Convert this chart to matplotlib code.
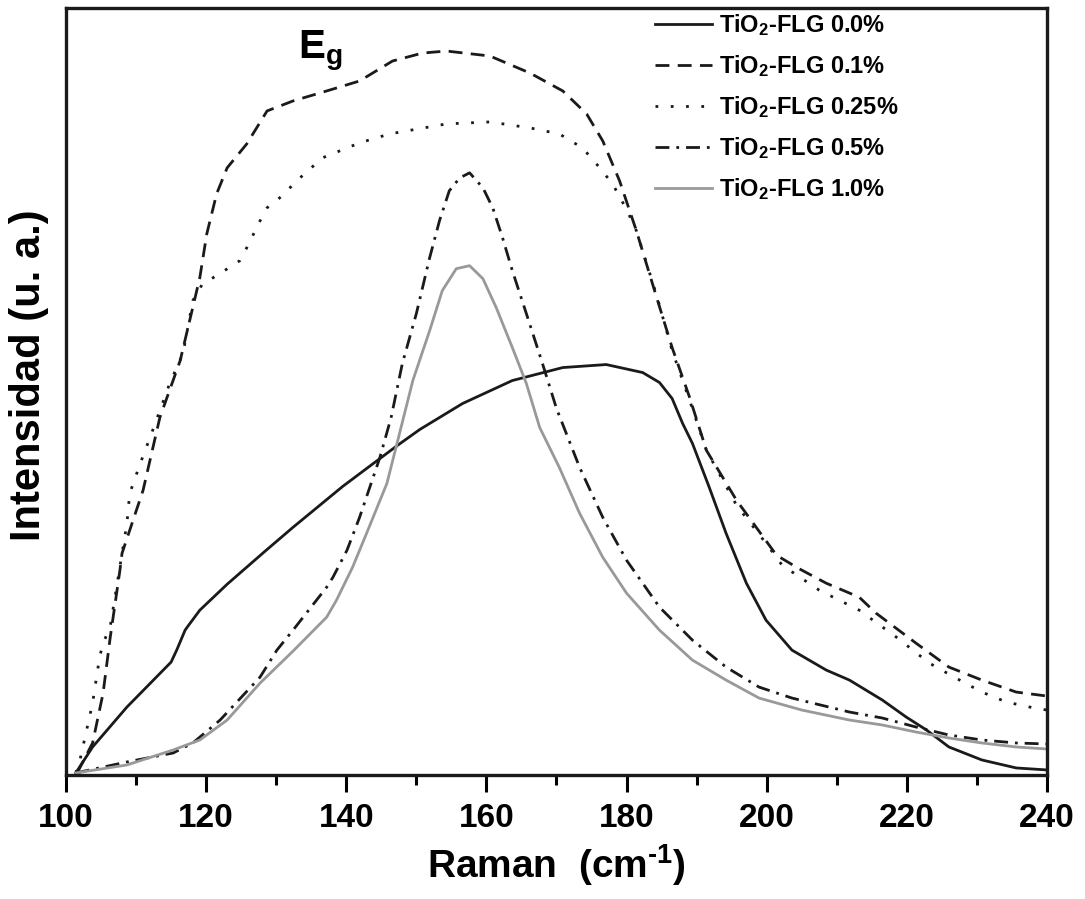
import numpy as np
import matplotlib
matplotlib.use("Agg")
from matplotlib import pyplot as plt
from matplotlib.ticker import MultipleLocator

plt.rcParams['font.family'] = ['Liberation Sans', 'DejaVu Sans']
plt.rcParams['font.weight'] = 'bold'
plt.rcParams['mathtext.fontset'] = 'custom'
plt.rcParams['mathtext.rm'] = 'Liberation Sans:bold'
plt.rcParams['mathtext.it'] = 'Liberation Sans:bold'
plt.rcParams['mathtext.bf'] = 'Liberation Sans:bold'

# Raman shift (cm-1) and intensity (arbitrary units)
x_00 = [101.4, 103.8, 108.7, 115.0, 115.8, 117.0, 117.3, 119.1, 123.0, 128.4, 132.4,
        139.5, 147.3, 150.5, 156.6, 163.7, 170.9, 177.1, 182.3, 184.7, 186.5, 188.0, 189.4,
        191.8, 194.2, 197.1, 199.9, 203.6, 208.5, 211.8, 216.5, 219.9, 222.8, 226.0, 230.7,
        235.6, 240.0]
y_00 = [0, 26, 66, 111, 123, 143, 146, 163, 189, 222, 246,
        287, 328, 344, 370, 393, 406, 409, 401, 391, 375, 350, 330,
        286, 240, 190, 153, 123, 103, 93, 73, 56, 43, 26, 13,
        5, 3]

x_01 = [101.6, 103.8, 105.3, 106.3, 107.7, 108.0, 111.0, 113.4, 116.3, 119.1, 120.1, 121.5,
        123.0, 125.8, 128.7, 132.4, 137.2, 141.9, 146.6, 150.9, 154.3, 160.5, 166.2, 170.9,
        174.3, 176.6, 179.0, 181.4, 184.3, 186.5, 189.0, 191.4, 195.7, 201.4, 204.5, 208.5,
        213.2, 215.6, 221.3, 226.0, 230.7, 235.6, 240.0]
y_01 = [0, 30, 80, 135, 203, 220, 283, 356, 413, 496, 540, 580,
        606, 630, 663, 673, 683, 693, 713, 721, 723, 718, 701, 683,
        660, 633, 593, 543, 476, 426, 376, 323, 273, 218, 205, 190,
        176, 160, 130, 106, 93, 81, 77]

x_025 = [101.4, 102.0, 103.8, 104.8, 105.3, 106.3, 108.7, 109.1, 110.6, 112.0, 113.4, 114.8,
         116.7, 118.1, 119.5, 121.5, 124.8, 125.8, 127.7, 128.7, 130.5, 133.4, 136.6, 141.9,
         146.2, 154.3, 160.5, 166.2, 170.4, 173.7, 175.7, 178.0, 180.1, 181.4, 184.3, 186.5,
         189.0, 191.4, 195.7, 199.9, 202.2, 207.5, 213.2, 218.5, 223.2, 227.0, 230.7, 234.2,
         238.2, 240.0]
y_025 = [0, 13, 70, 116, 130, 146, 250, 280, 310, 336, 363, 390,
         420, 473, 490, 498, 513, 526, 553, 566, 576, 596, 616, 631,
         640, 650, 652, 646, 640, 626, 610, 590, 563, 543, 478, 423,
         373, 323, 268, 230, 208, 183, 163, 136, 110, 95, 81, 71,
         65, 63]

x_05 = [101.4, 108.7, 115.3, 118.1, 122.0, 127.7, 130.1, 132.4, 137.2, 138.1, 140.1, 141.9,
        144.8, 146.4, 148.0, 150.0, 151.9, 153.3, 154.7, 156.2, 157.6, 159.5, 160.9,
        162.3, 163.7, 165.7, 168.0, 170.0, 173.3, 176.6, 180.0, 184.7, 189.4, 194.2, 198.9,
        203.6, 211.8, 216.5, 221.3, 226.0, 230.7, 235.6, 240.0]
y_05 = [0, 11, 20, 30, 53, 96, 123, 143, 186, 196, 223, 256,
        316, 356, 410, 460, 516, 553, 583, 596, 601, 586, 566,
        536, 503, 460, 410, 365, 306, 256, 213, 166, 133, 106, 86,
        75, 61, 55, 46, 38, 33, 30, 29]

x_10 = [101.4, 108.7, 115.3, 119.1, 123.0, 127.7, 132.4, 137.2, 138.6, 140.9, 142.9, 145.8,
        147.6, 149.5, 151.9, 153.7, 155.7, 157.6, 159.5, 161.4, 163.7, 165.7, 167.6, 170.4,
        173.3, 176.6, 180.0, 184.7, 189.4, 194.2, 198.9, 205.0, 211.8, 216.5, 221.3, 226.0,
        230.7, 235.6, 240.0]
y_10 = [0, 8, 23, 33, 53, 90, 122, 156, 173, 206, 240, 290,
        340, 393, 443, 483, 505, 508, 495, 466, 426, 390, 346, 306,
        260, 216, 180, 143, 113, 93, 75, 63, 53, 48, 41, 35,
        30, 26, 24]

labels = [r'TiO$_2$-FLG 0.0%', r'TiO$_2$-FLG 0.1%', r'TiO$_2$-FLG 0.25%',
          r'TiO$_2$-FLG 0.5%', r'TiO$_2$-FLG 1.0%']

fig = plt.figure(figsize=(10.85, 8.99), dpi=100)
ax = fig.add_axes([0.0608, 0.138, 0.9042, 0.853])

lw = 2.0
ax.plot(x_00, y_00, color='#1a1a1a', lw=lw, label=labels[0])
ax.plot(x_01, y_01, color='#1a1a1a', lw=lw, dashes=(5, 3), label=labels[1])
ax.plot(x_025, y_025, color='#1a1a1a', lw=lw, dashes=(1, 4.5), label=labels[2])
ax.plot(x_05, y_05, color='#1a1a1a', lw=lw, dashes=(5, 2.5, 1, 2.5), label=labels[3])
ax.plot(x_10, y_10, color='#999999', lw=lw, label=labels[4])

ax.set_xlim(100, 240)
ax.set_ylim(-2, 766)
ax.xaxis.set_major_locator(MultipleLocator(20))
ax.xaxis.set_minor_locator(MultipleLocator(10))
ax.set_yticks([])
ax.tick_params(axis='x', which='major', direction='out', length=12, width=2.2,
               labelsize=24, pad=8)
ax.tick_params(axis='x', which='minor', direction='out', length=7, width=2.2)
for s in ax.spines.values():
    s.set_linewidth(2.4)
    s.set_color('#1a1a1a')

ax.set_xlabel(r'Raman  (cm$^{\text{-1}}$)', fontsize=28, fontweight='bold', labelpad=6)
ax.set_ylabel('Intensidad (u. a.)', fontsize=30, fontweight='bold')
ax.yaxis.set_label_coords(-0.017, 0.521)

ax.text(0.237, 0.935, r'E$_\mathregular{g}$', transform=ax.transAxes, fontsize=29,
        fontweight='bold')

ax.legend(loc='upper left', bbox_to_anchor=(0.584, 1.016), frameon=False,
          fontsize=17, handlelength=2.4, handletextpad=0.3, labelspacing=0.64,
          borderpad=0.2)

fig.savefig('out.png', dpi=100)
